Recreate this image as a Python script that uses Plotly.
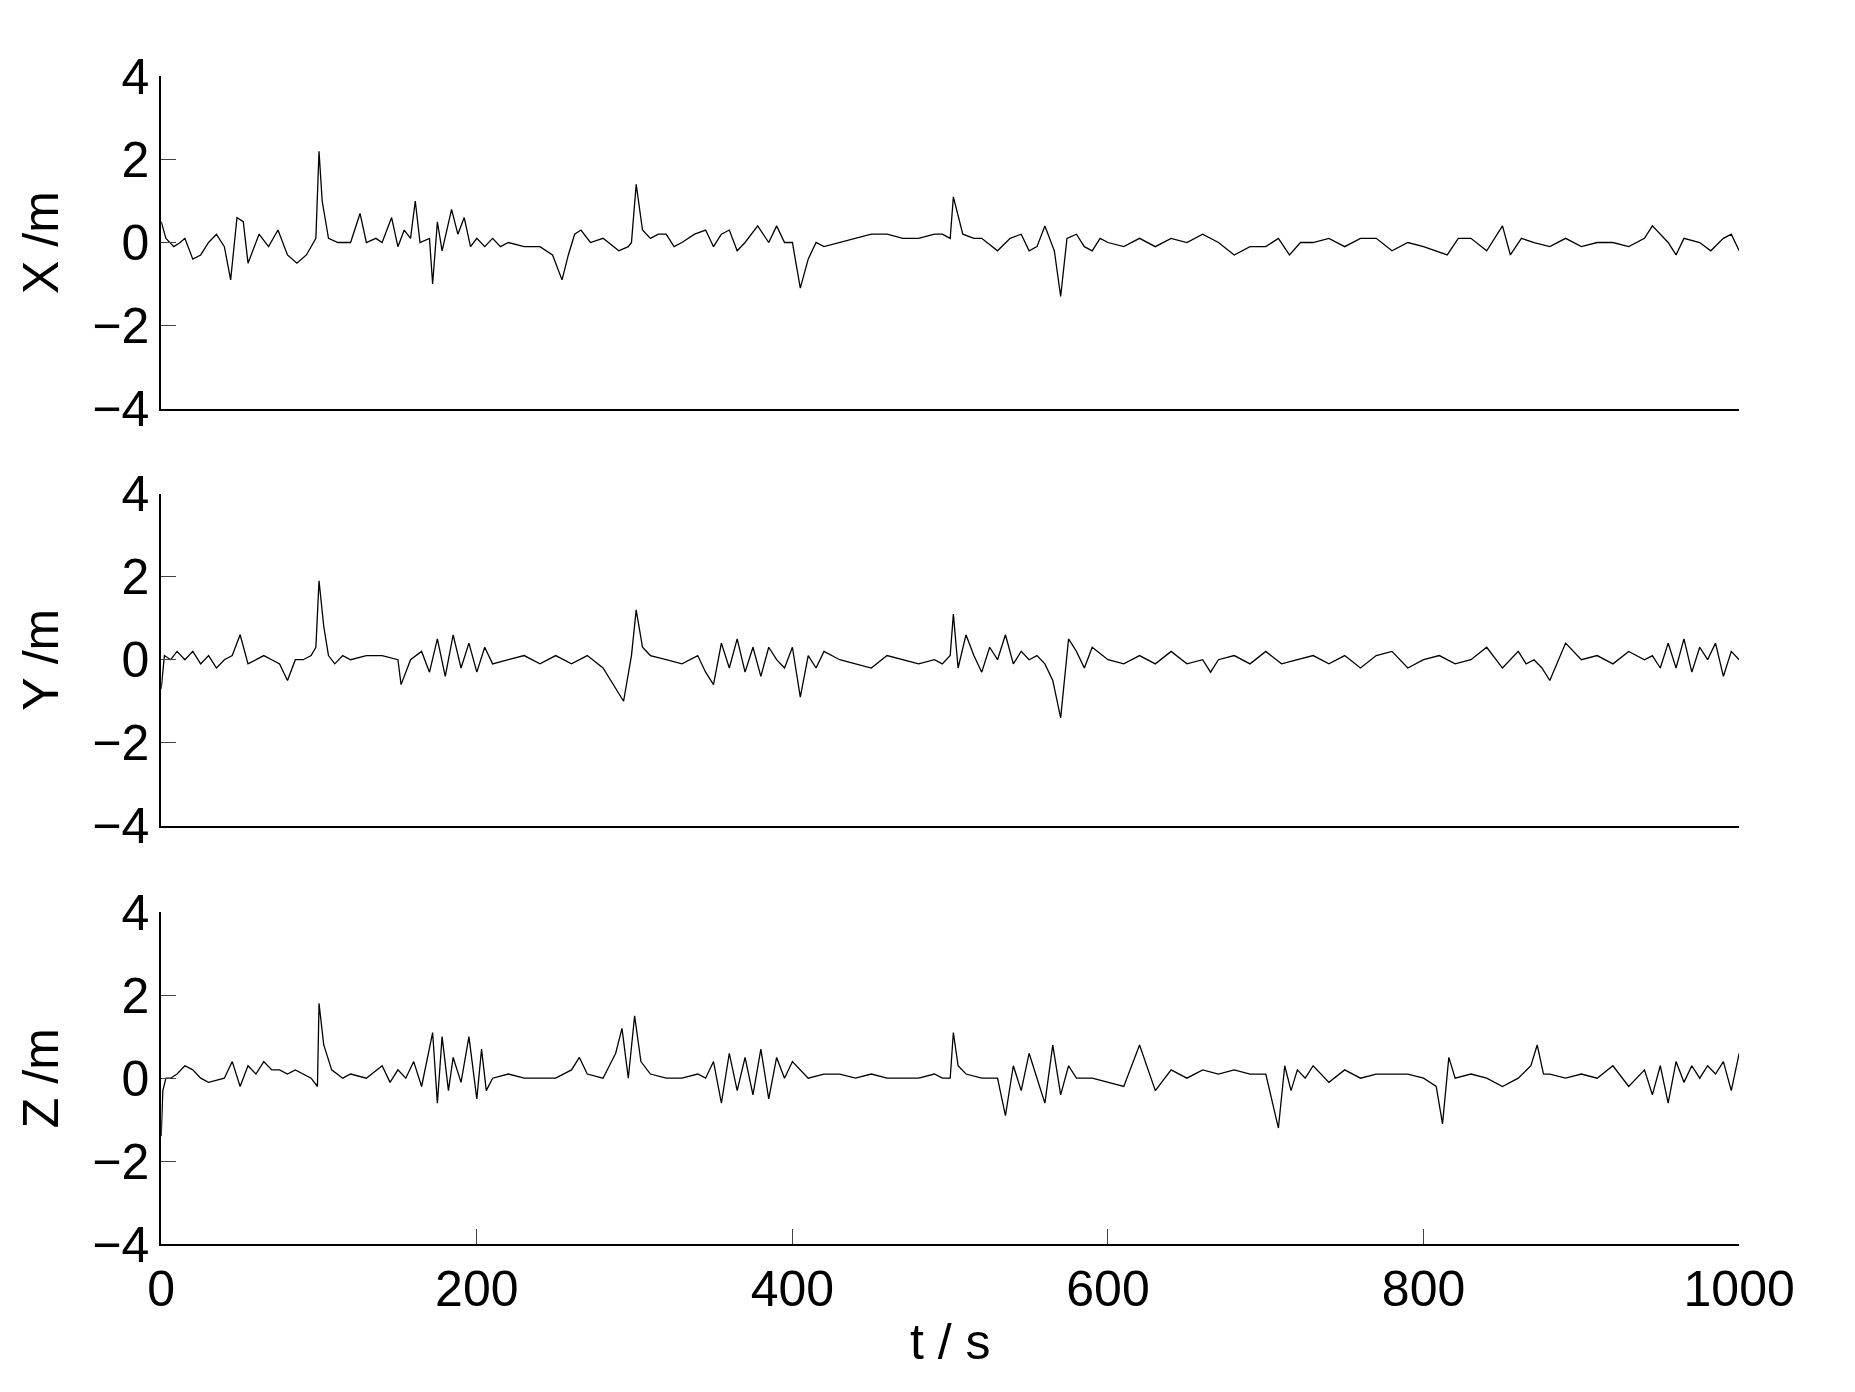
import plotly.graph_objects as go
from plotly.subplots import make_subplots

# (t, value) key points
x_t = [0, 3, 8, 12, 15, 20, 25, 30, 35, 40, 44, 48, 52, 55, 58, 62, 68, 74, 80, 86, 92, 98, 100, 102, 106, 112, 120, 126, 130,
       136, 140, 146, 150, 154, 158, 161, 164, 170, 172, 175, 178, 184, 188, 192, 196, 200, 205, 210, 215, 220, 230, 240, 248,
       254, 258, 262, 266, 272, 280, 290, 296, 298, 301, 305, 310, 315, 320, 325, 330, 338, 345, 350, 355, 360, 365, 370, 378,
       385, 390, 395, 400, 405, 410, 415, 420, 430, 440, 450, 460, 470, 480, 490, 495, 500, 502, 508, 515, 520, 530, 538, 545,
       550, 555, 560, 566, 570, 574, 580, 585, 590, 595, 600, 610, 620, 630, 640, 650, 660, 670, 680, 690, 700, 708, 715, 722,
       730, 740, 750, 760, 770, 780, 790, 800, 808, 815, 822, 830, 840, 850, 855, 862, 870, 880, 890, 900, 910, 920, 930, 940,
       945, 950, 955, 960, 965, 975, 982, 990, 995, 1000]
x_v = [0.5, 0.1, -0.1, 0.0, 0.1, -0.4, -0.3, 0.0, 0.2, -0.1, -0.9, 0.6, 0.5, -0.5, -0.2, 0.2, -0.1, 0.3, -0.3, -0.5, -0.3, 0.1,
       2.2, 1.0, 0.1, 0.0, 0.0, 0.7, 0.0, 0.1, 0.0, 0.6, -0.1, 0.3, 0.1, 1.0, 0.0, 0.1, -1.0, 0.5, -0.2, 0.8, 0.2, 0.6, -0.1,
       0.1, -0.1, 0.1, -0.1, 0.0, -0.1, -0.1, -0.3, -0.9, -0.3, 0.2, 0.3, 0.0, 0.1, -0.2, -0.1, 0.0, 1.4, 0.3, 0.1, 0.2, 0.2,
       -0.1, 0.0, 0.2, 0.3, -0.1, 0.2, 0.3, -0.2, 0.0, 0.4, 0.0, 0.4, 0.0, 0.0, -1.1, -0.4, 0.0, -0.1, 0.0, 0.1, 0.2, 0.2,
       0.1, 0.1, 0.2, 0.2, 0.1, 1.1, 0.2, 0.1, 0.1, -0.2, 0.1, 0.2, -0.2, -0.1, 0.4, -0.2, -1.3, 0.1, 0.2, -0.1, -0.2, 0.1,
       0.0, -0.1, 0.1, -0.1, 0.1, 0.0, 0.2, 0.0, -0.3, -0.1, -0.1, 0.1, -0.3, 0.0, 0.0, 0.1, -0.1, 0.1, 0.1, -0.2, 0.0,
       -0.1, -0.2, -0.3, 0.1, 0.1, -0.2, 0.4, -0.3, 0.1, 0.0, -0.1, 0.1, -0.1, 0.0, 0.0, -0.1, 0.1, 0.4, 0.2, 0.0, -0.3,
       0.1, 0.0, -0.2, 0.1, 0.2, -0.2]

y_t = [0, 2, 6, 10, 15, 20, 25, 30, 35, 40, 45, 50, 55, 60, 65, 70, 75, 80, 85, 90, 95, 98, 100, 103, 106, 110, 115, 120, 130,
       140, 150, 152, 158, 165, 170, 175, 180, 185, 190, 195, 200, 205, 210, 220, 230, 240, 250, 260, 270, 280, 290, 293,
       298, 301, 305, 310, 320, 330, 340, 345, 350, 355, 360, 365, 370, 375, 380, 385, 390, 395, 400, 405, 410, 415, 420,
       430, 440, 450, 460, 470, 480, 490, 495, 500, 502, 505, 510, 515, 520, 525, 530, 535, 540, 545, 550, 555, 560, 565,
       570, 575, 580, 585, 590, 600, 610, 620, 630, 640, 650, 660, 665, 670, 680, 690, 700, 710, 720, 730, 740, 750, 760,
       770, 780, 790, 800, 810, 820, 830, 840, 850, 860, 865, 870, 875, 880, 890, 900, 910, 920, 930, 940, 945, 950, 955,
       960, 965, 970, 975, 980, 985, 990, 995, 1000]
y_v = [-0.7, 0.1, 0.0, 0.2, 0.0, 0.2, -0.1, 0.1, -0.2, 0.0, 0.1, 0.6, -0.1, 0.0, 0.1, 0.0, -0.1, -0.5, 0.0, 0.0, 0.1, 0.3,
       1.9, 0.8, 0.1, -0.1, 0.1, 0.0, 0.1, 0.1, 0.0, -0.6, 0.0, 0.2, -0.3, 0.5, -0.4, 0.6, -0.2, 0.4, -0.3, 0.3, -0.1, 0.0,
       0.1, -0.1, 0.1, -0.1, 0.1, -0.2, -0.8, -1.0, 0.1, 1.2, 0.3, 0.1, 0.0, -0.1, 0.1, -0.3, -0.6, 0.4, -0.2, 0.5, -0.3,
       0.3, -0.4, 0.3, 0.0, -0.2, 0.3, -0.9, 0.1, -0.2, 0.2, 0.0, -0.1, -0.2, 0.1, 0.0, -0.1, 0.0, -0.1, 0.1, 1.1, -0.2,
       0.6, 0.1, -0.3, 0.3, 0.0, 0.6, -0.1, 0.2, 0.0, 0.1, -0.1, -0.5, -1.4, 0.5, 0.2, -0.2, 0.3, 0.0, -0.1, 0.1, -0.1,
       0.2, -0.1, 0.0, -0.3, 0.0, 0.1, -0.1, 0.2, -0.1, 0.0, 0.1, -0.1, 0.1, -0.2, 0.1, 0.2, -0.2, 0.0, 0.1, -0.1, 0.0,
       0.3, -0.2, 0.2, -0.1, 0.0, -0.2, -0.5, 0.4, 0.0, 0.1, -0.1, 0.2, 0.0, 0.1, -0.2, 0.4, -0.2, 0.5, -0.3, 0.3, 0.0,
       0.4, -0.4, 0.2, 0.0, 0.4, -0.3]

z_t = [0, 1, 3, 6, 10, 15, 20, 25, 30, 40, 45, 50, 55, 60, 65, 70, 75, 80, 85, 90, 95, 99, 100, 103, 108, 115, 120, 130, 140,
       145, 150, 155, 160, 165, 172, 175, 178, 182, 185, 190, 195, 200, 203, 206, 210, 220, 230, 240, 250, 260, 265, 270,
       280, 288, 292, 296, 300, 304, 310, 320, 330, 340, 345, 350, 355, 360, 365, 370, 375, 380, 385, 390, 395, 400, 410,
       420, 430, 440, 450, 460, 470, 480, 490, 495, 500, 502, 505, 510, 520, 530, 535, 540, 545, 550, 555, 560, 565, 570,
       575, 580, 590, 600, 610, 620, 630, 640, 650, 660, 670, 680, 690, 700, 708, 712, 716, 720, 725, 730, 740, 750, 760,
       770, 780, 790, 800, 808, 812, 816, 820, 830, 840, 850, 860, 868, 872, 876, 880, 890, 900, 910, 920, 930, 940, 945,
       950, 955, 960, 965, 970, 975, 980, 985, 990, 995, 1000]
z_v = [-1.4, -0.3, 0.0, 0.0, 0.1, 0.3, 0.2, 0.0, -0.1, 0.0, 0.4, -0.2, 0.3, 0.1, 0.4, 0.2, 0.2, 0.1, 0.2, 0.1, 0.0, -0.2,
       1.8, 0.8, 0.2, 0.0, 0.1, 0.0, 0.3, -0.1, 0.2, 0.0, 0.4, -0.2, 1.1, -0.6, 1.0, -0.3, 0.5, -0.1, 1.0, -0.5, 0.7, -0.3,
       0.0, 0.1, 0.0, 0.0, 0.0, 0.2, 0.5, 0.1, 0.0, 0.6, 1.2, 0.0, 1.5, 0.4, 0.1, 0.0, 0.0, 0.1, 0.0, 0.4, -0.6, 0.6,
       -0.3, 0.5, -0.4, 0.7, -0.5, 0.5, 0.0, 0.4, 0.0, 0.1, 0.1, 0.0, 0.1, 0.0, 0.0, 0.0, 0.1, 0.0, 0.0, 1.1, 0.3, 0.1,
       0.0, 0.0, -0.9, 0.3, -0.3, 0.6, 0.0, -0.6, 0.8, -0.4, 0.3, 0.0, 0.0, -0.1, -0.2, 0.8, -0.3, 0.2, 0.0, 0.2, 0.1,
       0.2, 0.1, 0.1, -1.2, 0.3, -0.3, 0.2, 0.0, 0.3, -0.1, 0.2, 0.0, 0.1, 0.1, 0.1, 0.0, -0.2, -1.1, 0.5, 0.0, 0.1, 0.0,
       -0.2, 0.0, 0.3, 0.8, 0.1, 0.1, 0.0, 0.1, 0.0, 0.3, -0.2, 0.2, -0.4, 0.3, -0.6, 0.4, -0.1, 0.3, 0.0, 0.3, 0.1,
       0.4, -0.3, 0.6]

y_ticks = [-4, -2, 0, 2, 4]
x_ticks = [0, 200, 400, 600, 800, 1000]
labels = ["X /m", "Y /m", "Z /m"]

FONT = "Liberation Sans, Arial, sans-serif"
FS = 50

fig = make_subplots(rows=3, cols=1, vertical_spacing=0.07)
for i, (t, v) in enumerate([(x_t, x_v), (y_t, y_v), (z_t, z_v)], start=1):
    fig.add_trace(go.Scatter(x=t, y=v, mode="lines", line=dict(color="black", width=1.3),
                             showlegend=False), row=i, col=1)

# panel positions measured on the reference
domains = [[0.7206, 0.969], [0.4085, 0.657], [0.0955, 0.344]]
for i in range(3):
    n = "" if i == 0 else str(i + 1)
    fig.layout["yaxis" + n].update(
        domain=domains[i], range=[-4, 4], tickvals=y_ticks, ticks="inside", ticklen=15,
        showline=True, linecolor="black", linewidth=2, showgrid=False, zeroline=False,
        title=dict(text=labels[i], font=dict(size=FS, family=FONT, color="black"), standoff=18),
        tickfont=dict(size=FS, family=FONT, color="black"))
    fig.layout["xaxis" + n].update(
        domain=[0.078, 0.962], range=[0, 1000], tickvals=x_ticks, ticks="inside", ticklen=15,
        showline=True, linecolor="black", linewidth=2, showgrid=False, zeroline=False,
        showticklabels=(i == 2), tickfont=dict(size=FS, family=FONT, color="black"))
    if i < 2:
        fig.layout["xaxis" + n].update(ticks="")

fig.layout.xaxis3.title = dict(text="t / s", font=dict(size=FS, family=FONT, color="black"), standoff=8)

fig.update_layout(width=1855, height=1392, plot_bgcolor="white", paper_bgcolor="white",
                  margin=dict(l=0, r=0, t=0, b=0))

fig.write_html("out.html")
